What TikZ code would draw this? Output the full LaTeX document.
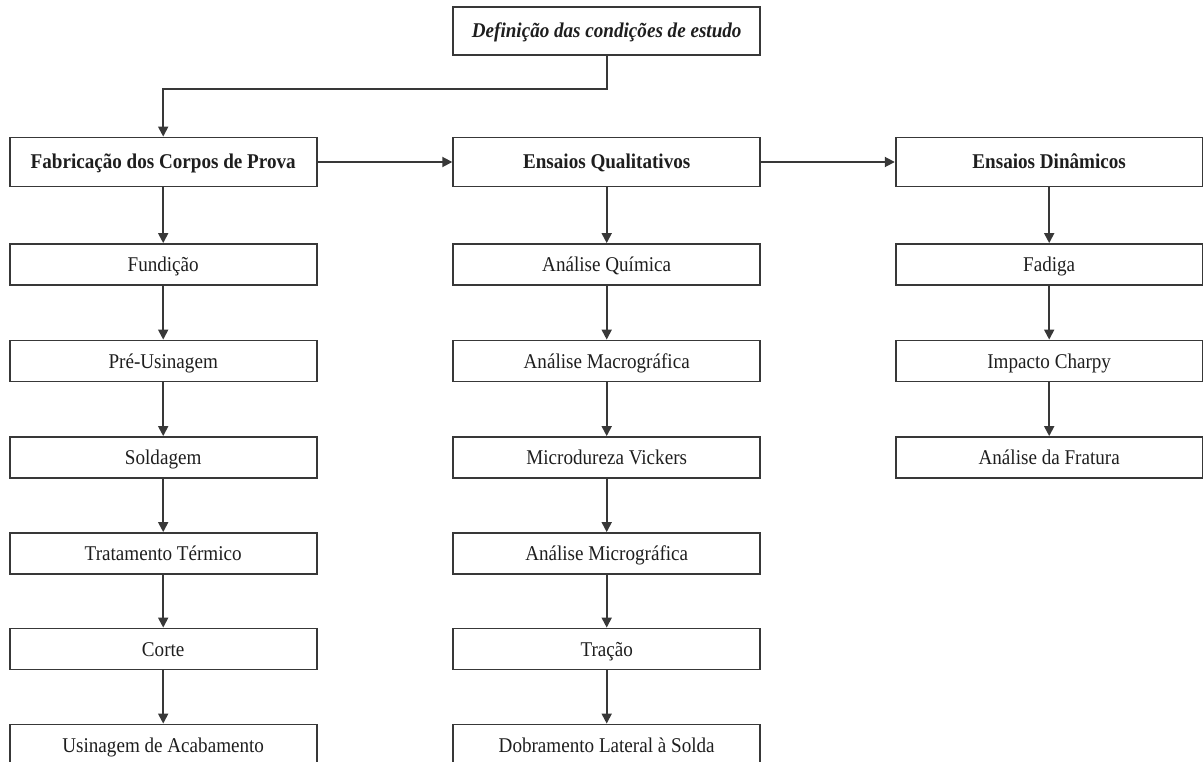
\documentclass[tikz,border=0pt]{standalone}
\usepackage{fontspec}
\setmainfont{Liberation Serif}[FakeStretch=0.91]
\usetikzlibrary{arrows.meta}
\definecolor{linegray}{HTML}{383838}
\definecolor{txt}{HTML}{1E1E1E}
\begin{document}
\begin{tikzpicture}[x=1pt,y=-1pt,
  box/.style={draw=linegray, line width=1.8pt, minimum width=307pt, minimum height=41pt,
    inner sep=0pt, text=txt, text height=14pt, text depth=0pt, font=\fontsize{21}{24}\selectfont},
  headbox/.style={box, minimum height=49pt, font=\fontsize{21}{24}\selectfont\bfseries},
  topbox/.style={box, minimum height=48pt, font=\fontsize{21}{24}\selectfont\bfseries\itshape},
  arr/.style={draw=linegray, line width=1.8pt, -{Triangle[length=10pt,width=10pt]}}]
\useasboundingbox (0,0) rectangle (1203,762);
\clip (0,0) rectangle (1203,762);

\node[topbox] (top) at (606.7,30.8) {Definição das condições de estudo};
\coordinate (bend) at (0,89.3);

\node[headbox] (fab) at (163.2,162) {Fabricação dos Corpos de Prova};
\node[headbox] (qual) at (606.7,162) {Ensaios Qualitativos};
\node[headbox] (din) at (1049.2,162) {Ensaios Dinâmicos};

\node[box] (a1) at (163.2,264.5) {Fundição};
\node[box] (a2) at (163.2,361) {Pré-Usinagem};
\node[box] (a3) at (163.2,457.5) {Soldagem};
\node[box] (a4) at (163.2,553.5) {Tratamento Térmico};
\node[box] (a5) at (163.2,649) {Corte};
\node[box] (a6) at (163.2,745) {Usinagem de Acabamento};

\node[box] (b1) at (606.7,264.5) {Análise Química};
\node[box] (b2) at (606.7,361) {Análise Macrográfica};
\node[box] (b3) at (606.7,457.5) {Microdureza Vickers};
\node[box] (b4) at (606.7,553.5) {Análise Micrográfica};
\node[box] (b5) at (606.7,649) {Tração};
\node[box] (b6) at (606.7,745) {Dobramento Lateral à Solda};

\node[box] (c1) at (1049.2,264.5) {Fadiga};
\node[box] (c2) at (1049.2,361) {Impacto Charpy};
\node[box] (c3) at (1049.2,457.5) {Análise da Fratura};

\draw[arr] (top.south) -- (top.south |- bend) -| (fab.north);
\draw[arr] (fab.east) -- (qual.west);
\draw[arr] (qual.east) -- (din.west);

\draw[arr] (fab.south) -- (a1.north);
\draw[arr] (a1.south) -- (a2.north);
\draw[arr] (a2.south) -- (a3.north);
\draw[arr] (a3.south) -- (a4.north);
\draw[arr] (a4.south) -- (a5.north);
\draw[arr] (a5.south) -- (a6.north);

\draw[arr] (qual.south) -- (b1.north);
\draw[arr] (b1.south) -- (b2.north);
\draw[arr] (b2.south) -- (b3.north);
\draw[arr] (b3.south) -- (b4.north);
\draw[arr] (b4.south) -- (b5.north);
\draw[arr] (b5.south) -- (b6.north);

\draw[arr] (din.south) -- (c1.north);
\draw[arr] (c1.south) -- (c2.north);
\draw[arr] (c2.south) -- (c3.north);
\end{tikzpicture}
\end{document}
